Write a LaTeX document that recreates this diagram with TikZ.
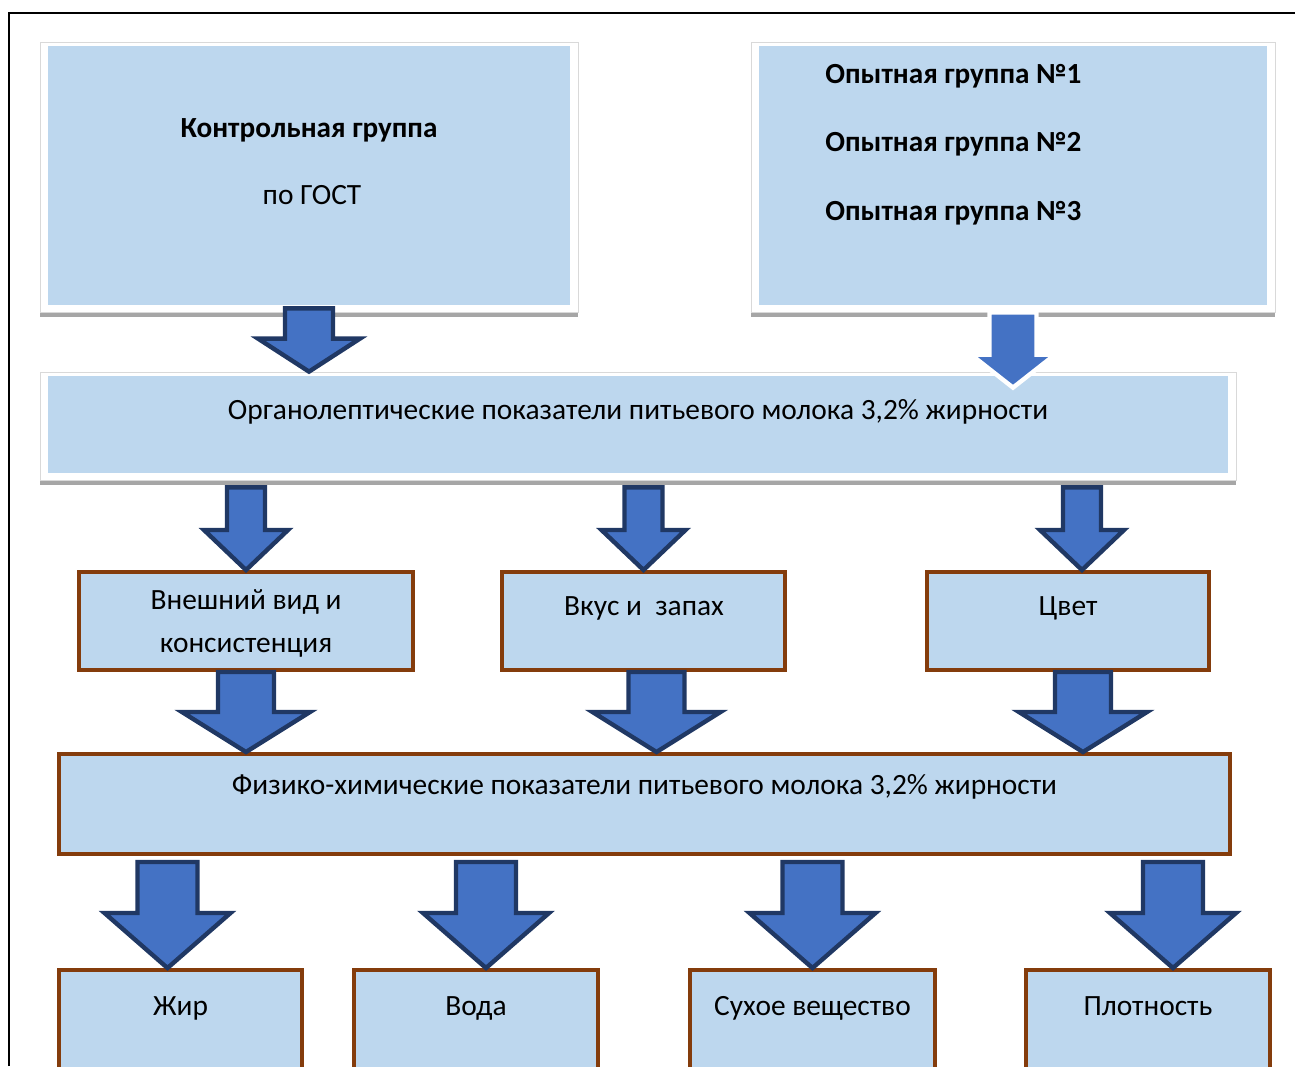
\documentclass[tikz,border=0pt]{standalone}
\usepackage{fontspec}
\setmainfont{Carlito}
\usetikzlibrary{calc,shadows}

\definecolor{boxblue}{HTML}{BDD7EE}
\definecolor{boxbrown}{HTML}{843C0C}
\definecolor{arrowblue}{HTML}{4472C4}
\definecolor{arrowedge}{HTML}{203864}
\definecolor{shadowgray}{HTML}{A6A6A6}

% #2 top, #3 tip, #4 shaft half width, #5 head half width, #6 head length
\newcommand{\fatarrow}[6][]{%
  \draw[fatarr,#1] let \p1=(#2), \p2=(#3) in
    (\x2-#4,\y1) -- (\x2+#4,\y1) -- (\x2+#4,\y2+#6) -- (\x2+#5,\y2+#6)
    -- (\x2,\y2) -- (\x2-#5,\y2+#6) -- (\x2-#4,\y2+#6) -- cycle;}

\begin{document}
\begin{tikzpicture}[x=0.5pt, y=-0.5pt,
    framebox/.style={rectangle, fill=white, draw=black!15, line width=0.4pt, inner sep=0pt,
      drop shadow={shadow xshift=0pt, shadow yshift=-2.5pt, fill=shadowgray, opacity=1},
      path picture={\fill[boxblue] ([xshift=4pt,yshift=-2pt]path picture bounding box.north west)
        rectangle ([xshift=-4pt,yshift=3.5pt]path picture bounding box.south east);}},
    brownbox/.style={rectangle, draw=boxbrown, line width=2pt, fill=boxblue, inner sep=0pt},
    fatarr/.style={fill=arrowblue, draw=arrowedge, line width=2.2pt, line join=miter},
    txt/.style={font=\fontsize{14.7}{17}\selectfont, inner sep=0pt, anchor=base},
    btxt/.style={font=\bfseries\fontsize{14.6}{17}\selectfont, inner sep=0pt, anchor=base}]

    \useasboundingbox (0,0) rectangle (1295,1066);
    \clip (0,0) rectangle (1295,1066);
    \draw[line width=1pt] (9,1066) -- (9,13) -- (1295,13);

    % groups
    \node[framebox, minimum width=269pt, minimum height=135pt] (kontr) at (309,177) {};
    \node[framebox, minimum width=262pt, minimum height=135pt] (opyt) at (1013,177) {};
    \node[btxt] (kontr-a) at (309,137) {Контрольная группа};
    \node[txt] (kontr-b) at (312,204) {по ГОСТ};
    \node[btxt, anchor=base west] (opyt-1) at (825,83) {Опытная группа №1};
    \node[btxt, anchor=base west] (opyt-2) at (825,151) {Опытная группа №2};
    \node[btxt, anchor=base west] (opyt-3) at (825,220) {Опытная группа №3};

    % organoleptic
    \node[framebox, minimum width=598pt, minimum height=54pt] (org) at (638,426) {};
    \node[txt] (org-t) at (638,419) {Органолептические показатели питьевого молока 3,2\% жирности};

    \node[brownbox, minimum width=167pt, minimum height=49pt] (vid) at (246,621) {};
    \node[brownbox, minimum width=141.5pt, minimum height=49pt] (vkus) at (643.5,621) {};
    \node[brownbox, minimum width=141pt, minimum height=49pt] (cvet) at (1068,621) {};
    \node[txt] (vid-a) at (246,609) {Внешний вид и};
    \node[txt] (vid-b) at (246,652) {консистенция};
    \node[txt] (vkus-t) at (644,615) {Вкус и\ \ запах};
    \node[txt] (cvet-t) at (1068,615) {Цвет};

    % physico-chemical
    \node[brownbox, minimum width=585.5pt, minimum height=50pt] (fiz) at (644.5,804) {};
    \node[txt] (fiz-t) at (644.5,794) {Физико-химические показатели питьевого молока 3,2\% жирности};

    \node[brownbox, minimum width=121.5pt, minimum height=65pt] (zhir) at (180.5,1035) {};
    \node[brownbox, minimum width=122pt, minimum height=65pt] (voda) at (476,1035) {};
    \node[brownbox, minimum width=122.5pt, minimum height=65pt] (sukh) at (812.5,1035) {};
    \node[brownbox, minimum width=122pt, minimum height=65pt] (plot) at (1148,1035) {};
    \node[txt] (zhir-t) at (180.5,1015) {Жир};
    \node[txt] (voda-t) at (476,1015) {Вода};
    \node[txt] (sukh-t) at (812.5,1015) {Сухое вещество};
    \node[txt] (plot-t) at (1148,1015) {Плотность};

    % arrows
    \fatarrow{$(kontr.south)+(0,-4)$}{kontr.south |- org.north}{12pt}{25.5pt}{16.5pt}
    \fatarrow[draw=white]{opyt.south}{$(opyt.south |- org.north)+(0,16)$}{11.75pt}{21pt}{16.5pt}

    \fatarrow{$(org.south)+(0,7)$}{vid.north}{9.5pt}{21pt}{20pt}
    \fatarrow{$(org.south)+(0,7)$}{vkus.north}{9.5pt}{21pt}{20pt}
    \fatarrow{$(org.south)+(0,7)$}{$(cvet.north)+(14,0)$}{9.5pt}{21pt}{20pt}

    \fatarrow{vid.south}{vid.south |- fiz.north}{14pt}{32pt}{20pt}
    \fatarrow{vkus.south}{$(vkus.south |- fiz.north)+(13,0)$}{14pt}{32pt}{20pt}
    \fatarrow{cvet.south}{$(cvet.south |- fiz.north)+(15,0)$}{14pt}{32pt}{20pt}

    \fatarrow{$(fiz.south)+(0,6)$}{$(zhir.north)+(-13,0)$}{15pt}{31.5pt}{27.5pt}
    \fatarrow{$(fiz.south)+(0,6)$}{$(voda.north)+(10,0)$}{15pt}{31.5pt}{27.5pt}
    \fatarrow{$(fiz.south)+(0,6)$}{sukh.north}{15pt}{31.5pt}{27.5pt}
    \fatarrow{$(fiz.south)+(0,6)$}{$(plot.north)+(25,0)$}{15pt}{31.5pt}{27.5pt}
\end{tikzpicture}
\end{document}
